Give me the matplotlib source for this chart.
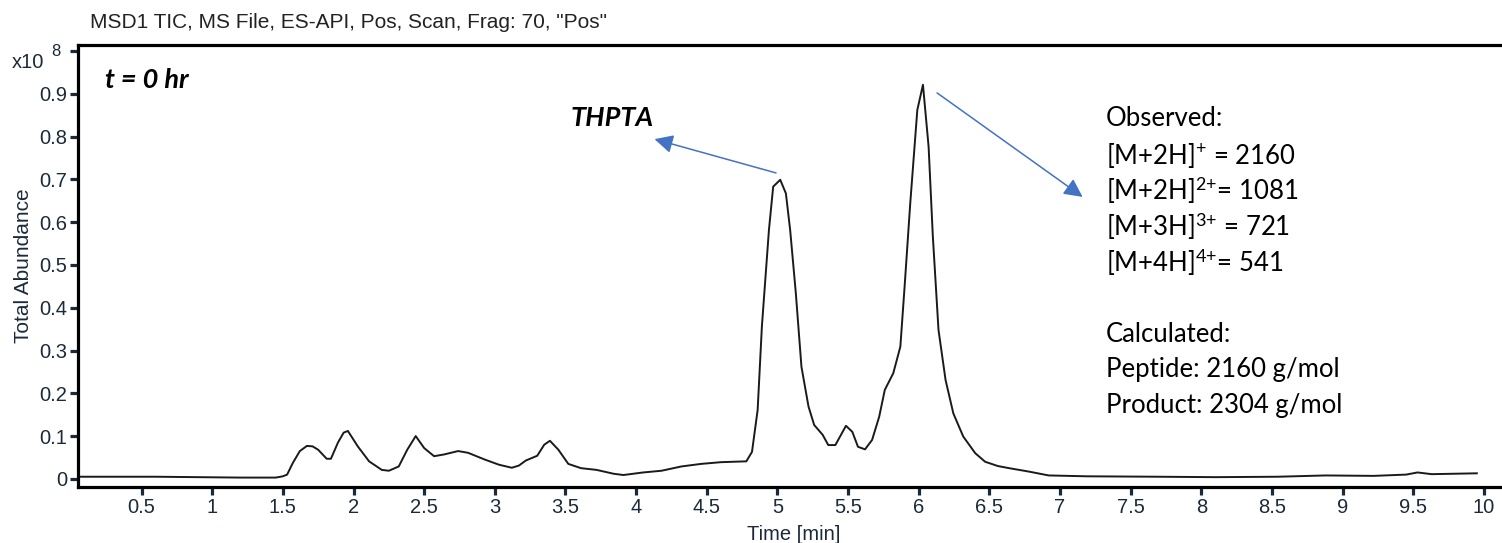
import matplotlib
matplotlib.use("Agg")
import matplotlib.pyplot as plt
from matplotlib.ticker import FixedLocator

# TIC trace, abundance in units of 1e8
time_min = [0.05, 0.3, 0.6, 0.9, 1.2, 1.45, 1.5, 1.53, 1.57, 1.62, 1.67, 1.71, 1.75,
            1.81, 1.84, 1.89, 1.93, 1.96, 2.03, 2.11, 2.2, 2.25, 2.32, 2.38, 2.44,
            2.5, 2.57, 2.64, 2.74, 2.81, 2.93, 3.03, 3.12, 3.17, 3.22, 3.3, 3.35,
            3.39, 3.45, 3.52, 3.61, 3.72, 3.84, 3.91, 4.05, 4.18, 4.32, 4.46, 4.6,
            4.78, 4.82, 4.86, 4.89, 4.94, 4.97, 5.02, 5.06, 5.09, 5.13, 5.17, 5.22,
            5.26, 5.32, 5.36, 5.41, 5.485, 5.53, 5.57, 5.62, 5.67, 5.72, 5.76, 5.82,
            5.87, 5.90, 5.94, 5.99, 6.03, 6.07, 6.10, 6.14, 6.19, 6.245, 6.315, 6.40,
            6.47, 6.56, 6.64, 6.78, 6.92, 7.19, 7.69, 8.10, 8.54, 8.88, 9.22, 9.45,
            9.53, 9.63, 9.95]
abundance = [0.005, 0.005, 0.005, 0.004, 0.003, 0.003, 0.006, 0.01, 0.037, 0.065, 0.077,
             0.076, 0.068, 0.047, 0.047, 0.085, 0.108, 0.112, 0.076, 0.041, 0.021, 0.019,
             0.029, 0.068, 0.1, 0.072, 0.053, 0.057, 0.065, 0.061, 0.045, 0.033, 0.026,
             0.031, 0.043, 0.054, 0.080, 0.089, 0.068, 0.035, 0.025, 0.021, 0.012, 0.009,
             0.015, 0.019, 0.029, 0.035, 0.039, 0.041, 0.063, 0.161, 0.356, 0.582, 0.683,
             0.699, 0.667, 0.582, 0.435, 0.262, 0.169, 0.126, 0.103, 0.079, 0.079, 0.124,
             0.11, 0.075, 0.069, 0.091, 0.145, 0.208, 0.247, 0.309, 0.449, 0.644, 0.862,
             0.921, 0.776, 0.566, 0.348, 0.231, 0.153, 0.099, 0.06, 0.04, 0.03, 0.025,
             0.017, 0.008, 0.006, 0.005, 0.004, 0.005, 0.008, 0.007, 0.01, 0.015, 0.011,
             0.013]

x_ticks = [0.5 * i for i in range(1, 21)]
y_ticks = [0.1 * i for i in range(0, 11)]
y_ticklabels = ["0", "0.1", "0.2", "0.3", "0.4", "0.5", "0.6", "0.7", "0.8", "0.9", ""]

observed = ["Observed:",
            r"[M+2H]$^{\text{+}}$ = 2160",
            r"[M+2H]$^{\text{2+}}$= 1081",
            r"[M+3H]$^{\text{3+}}$ = 721",
            r"[M+4H]$^{\text{4+}}$= 541"]
calculated = ["Calculated:",
              "Peptide: 2160 g/mol",
              "Product: 2304 g/mol"]

plt.rcParams["mathtext.fontset"] = "custom"
plt.rcParams["mathtext.rm"] = "Lato"
plt.rcParams["mathtext.it"] = "Lato:italic"

sans = ["Liberation Sans", "DejaVu Sans"]
tick_col = "#1b2a3a"
arrow_col = "#4472c4"

fig = plt.figure(figsize=(15.02, 5.43), dpi=100)
ax = fig.add_axes([78 / 1502, 56 / 543, 1 - 78 / 1502, (487 - 45) / 543])

ax.plot(time_min, abundance, color="#1a1a1a", linewidth=1.4)

ax.set_xlim(0.05, 10.128)
ax.set_ylim(-0.019, 1.014)
ax.xaxis.set_major_locator(FixedLocator(x_ticks))
ax.set_xticklabels([f"{v:g}" for v in x_ticks])
ax.yaxis.set_major_locator(FixedLocator(y_ticks))
ax.set_yticklabels(y_ticklabels)

for s in ["left", "bottom", "top"]:
    ax.spines[s].set_linewidth(2.3)
    ax.spines[s].set_color("black")
ax.spines["right"].set_visible(False)

ax.tick_params(axis="both", direction="out", length=6, width=2.3, color=tick_col,
               labelcolor=tick_col, pad=2)
for lab in ax.get_xticklabels() + ax.get_yticklabels():
    lab.set_family(sans)
    lab.set_fontsize(14.5)

ax.set_xlabel("Time [min]", family=sans, fontsize=14.5, color=tick_col, labelpad=2)
ax.set_ylabel("Total Abundance", family=sans, fontsize=15, color=tick_col, labelpad=4)
ax.xaxis.set_label_coords((794 - 78) / 1424, -0.085)

fig.text(90 / 1502, 1 - 22 / 543, 'MSD1 TIC, MS File, ES-API, Pos, Scan, Frag: 70, "Pos"',
         family=sans, fontsize=15, color="#222222", va="center", ha="left")
fig.text(12 / 1502, 1 - 62 / 543, "x10", family=sans, fontsize=14.5, color=tick_col,
         va="center", ha="left")
fig.text(51 / 1502, 1 - 52 / 543, "8", family=sans, fontsize=12, color=tick_col,
         va="center", ha="left")

ax.text(0.24, 0.932, "t = 0 hr", family="Lato", fontweight="bold", style="italic",
        fontsize=19.5, va="center", ha="left")
ax.text(3.83, 0.843, "THPTA", family="Lato", fontweight="bold", style="italic",
        fontsize=19.5, va="center", ha="center")

ax.annotate("", xy=(4.13, 0.794), xytext=(4.99, 0.715),
            arrowprops=dict(arrowstyle="-|>", color=arrow_col, lw=1.1,
                            mutation_scale=28, shrinkA=0, shrinkB=0))
ax.annotate("", xy=(7.16, 0.659), xytext=(6.13, 0.902),
            arrowprops=dict(arrowstyle="-|>", color=arrow_col, lw=1.1,
                            mutation_scale=28, shrinkA=0, shrinkB=0))

line_y = [118, 155, 190, 226, 262]
for txt, py in zip(observed, line_y):
    fig.text(1106 / 1502, 1 - py / 543, txt, family="Lato", fontsize=18.5,
             va="center", ha="left")
for txt, py in zip(calculated, [334, 369, 405]):
    fig.text(1106 / 1502, 1 - py / 543, txt, family="Lato", fontsize=18.5,
             va="center", ha="left")

fig.savefig("out.png", dpi=100)
